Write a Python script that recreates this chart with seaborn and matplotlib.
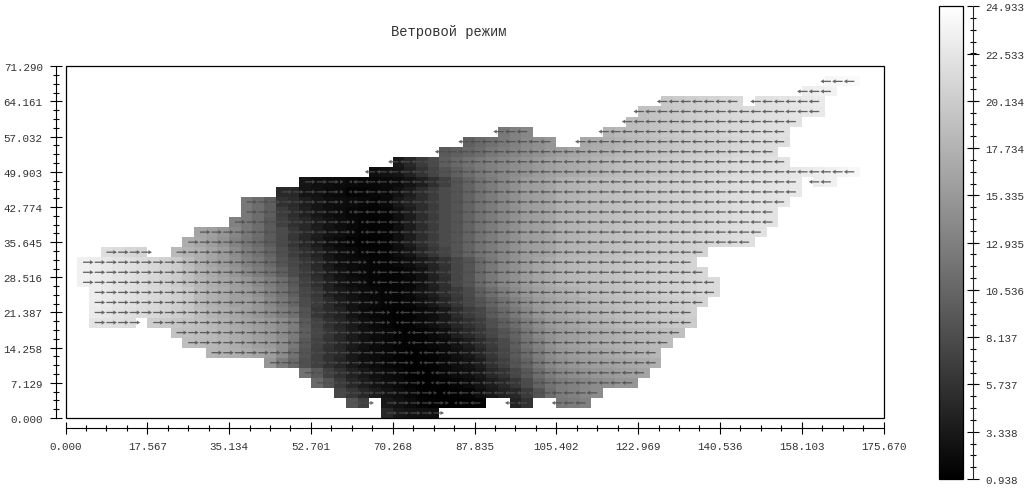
# plot.py
import numpy as np
import pandas as pd
import seaborn as sns
import matplotlib.pyplot as plt
from matplotlib.patches import Rectangle
from matplotlib.ticker import AutoMinorLocator

sns.set_style("white")
plt.rcParams["font.family"] = ["Liberation Mono", "DejaVu Sans Mono"]

title = "Ветровой режим"
x_labels = ["0.000", "17.567", "35.134", "52.701", "70.268", "87.835", "105.402", "122.969", "140.536", "158.103", "175.670"]
y_labels = ["0.000", "7.129", "14.258", "21.387", "28.516", "35.645", "42.774", "49.903", "57.032", "64.161", "71.290"]
cbar_labels = ["0.938", "3.338", "5.737", "8.137", "10.536", "12.935", "15.335", "17.734", "20.134", "22.533", "24.933"]
x_max, y_max = 175.67, 71.29
n_cols, n_rows = 70, 35

east_upper = [89, 103, 117, 126, 136, 145, 155, 159, 164, 174, 178, 181, 184, 187, 190, 192, 195, 198, 201, 204,
              206, 209, 212, 215, 218, 220, 222, 223, 225, 227, 229]
east_low = [75, 89, 108, 122, 136, 145, 155, 164, 169, 178, 181, 184, 187, 190, 192, 195, 198, 201, 204, 206, 209, 212, 215]
N = None

# rows from the bottom of the grid (row 0) to the top (row 33)
first_col = [27, 24, 23, 21, 20, 17, 12, 10, 9, 2, 2, 2, 2, 1, 1, 1, 3, 10, 11, 14, 15, 15, 18, 20, 26, 28, 32, 34, 37, 48, 49, 51, 63, 65]
speed_rows = [
    [47, 32, 28, 26, 23],
    [89, 70, N, 32, 26, 20, 15, 12, 10, 10, 12, 14, N, N, 42, 56, N, N, 122, 126, 131],
    [75, 60, 47, 37, 28, 22, 16, 12, 10, 10, 12, 14, 23, 32, 42, 47, 65, 89, 112, 126, 131, 136, 141],
    [108, 89, 65, 47, 37, 28, 22, 18, 14, 10, 10, 12, 15, 20, 28, 37, 47, 61, 80, 103, 117, 126, 131, 136, 141, 145, 150, 150],
    [117, 94, 70, 56, 42, 32, 24, 20, 16, 12, 10, 12, 16, 21, 24, 32, 47, 58, 75, 92, 112, 127, 136, 142, 147, 150, 153, 157, 160, 164],
    [150, 126, 108, 84, 70, 56, 45, 32, 24, 20, 16, 14, 11, 11, 13, 17, 23, 28, 37, 56, 70, 89, 103, 122, 136, 145, 150, 155, 158, 161, 164, 167, 170, 174],
    [180, 177, 174, 170, 164, 158, 141, 117, 89, 70, 56, 47, 32, 24, 20, 17, 14, 11, 12, 14, 18, 25, 32, 45, 61, 75, 94, 110, 127, 141, 150, 155, 159, 163, 167, 171, 175, 178, 181],
    [188, 185, 182, 178, 172, 166, 160, 154, 143, 122, 92, 72, 58, 46, 34, 26, 20, 17, 14, 12, 13, 16, 20, 28, 37, 51, 65, 79, 98, 117, 131, 145, 155, 159, 164, 168, 172, 175, 178, 181, 184, 187],
    [192, 190, 187, 183, 177, 170, 165, 158, 152, 140, 125, 98, 75, 60, 47, 35, 26, 20, 18, 14, 12, 14, 18, 24, 39, 48, 61, 75, 89, 103, 120, 136, 147, 155, 159, 164, 168, 172, 176, 180, 183, 186, 188, 190],
    [224, 222, 219, 216, N, 202, 199, 195, 192, 188, 182, 176, 169, 163, 157, 150, 140, 127, 94, 73, 56, 45, 34, 24, 18, 15, 12, 14, 18, 24, 32, 45, 56, 67, 84, 98, 112, 127, 141, 152, 159, 164, 169, 174, 178, 182, 186, 189, 192, 195, 198, 201],
    [230, 226, 222, 219, 216, 212, 208, 203, 196, 186, 178, 172, 165, 158, 150, 140, 128, 115, 88, 60, 50, 42, 28, 20, 16, 14, 12, 14, 18, 23, 32, 51, 65, 75, 94, 108, 122, 136, 150, 159, 164, 169, 174, 178, 182, 186, 189, 192, 195, 198, 201, 204],
    [232, 228, 224, 221, 217, 213, 209, 204, 196, 183, 175, 169, 160, 160, 150, 136, 122, 105, 80, 65, 50, 36, 28, 22, 18, 15, 14, 16, 24, 32, 45, 61, 75, 89, 103, 117, 131, 143, 155, 161, 167, 172, 177, 181, 185, 188, 191, 194, 197, 200, 203, 206, 209],
    [232, 228, 224, 221, 217, 213, 209, 204, 196, 183, 175, 169, 160, 155, 145, 131, 117, 98, 75, 61, 42, 32, 26, 20, 17, 15, 15, 18, 28, 38, 52, 65, 79, 98, 112, 127, 139, 150, 159, 165, 171, 176, 181, 185, 188, 191, 194, 197, 200, 203, 206, 209, 212, 214],
    [235, 231, 227, 223, 220, 216, 211, 206, 200, 190, 180, 172, 165, 158, 150, 138, 126, 112, 92, 70, 54, 40, 28, 22, 18, 15, 14, 14, 16, 26, 40, 54] + east_low[:23],
    [235, 231, 227, 223, 220, 216, 211, 206, 200, 188, 177, 168, 160, 150, 138, 127, 115, 98, 80, 65, 50, 36, 26, 20, 17, 15, 14, 14, 18, 26, 42, 56] + east_low[:22],
    [235, 231, 227, 223, 220, 216, 211, 206, 200, 186, 174, 164, 155, 145, 131, 122, 108, 89, 75, 61, 47, 32, 23, 20, 17, 15, 15, 18, 22, 32, 44, 58] + east_low[:21],
    [218, 216, 211, 209, N, N, 183, 178, 173, 164, 155, 141, 126, 117, 103, 84, 67, 54, 42, 30, 22, 18, 15, 14, 14, 22, 30, 46, 60, 74] + east_upper[:22],
    [172, 165, 157, 147, 133, 120, 110, 95, 78, 60, 46, 34, 24, 18, 14, 12, 12, 14, 24, 36, 52, 66, 80] + east_upper[:26],
    [164, 159, 150, 136, 122, 112, 94, 80, 61, 47, 37, 28, 23, 17, 14, 13, 14, 24, 36, 52, 66, 80] + east_upper[:27],
    [131, 122, 111, 94, 70, 56, 47, 35, 28, 22, 17, 14, 13, 14, 24, 36, 52, 66, 80] + east_upper[:28],
    [122, 112, 98, 66, 52, 40, 30, 24, 20, 16, 15, 14, 15, 25, 36, 52, 66, 80] + east_upper[:28],
    [122, 112, 98, 56, 50, 37, 30, 23, 22, 20, 17, 15, 18, 32, 42, 52, 66, 80] + east_upper[:29],
    [48, 47, 28, 26, 20, 18, 14, 14, 16, 18, 26, 36, 52, 66, 80] + east_upper[:30],
    [30, 24, 22, 20, 18, 16, 16, 18, 20, 28, 38, 54, 70] + east_upper[:30] + [N, 232, 235],
    [24, 26, 30, 42, 58, 74, 88, 100, 112, 122, 130, 136, 142, 148, 154, 160, 165, 169, 173, 177, 181, 185, 188, 191, 194, 197, 200, 203, 206, 209, 212, 215, 217, 219, 221, 223, 226, 229, 232, 235, 238, 241],
    [32, 47, 65, 79, 98, 108, 117, 124, 131, 136, 142, 148, 154, 160, 165, 169, 173, 177, 181, 185, 188, 191, 194, 197, 200, 203, 206, 209, 212, 215, 217, 219, 221, 223],
    [94, 100, 105, 112, 122, 128, 134, 140, 146, 152, 158, 164, 168, 172, 176, 180, 184, 187, 190, 193, 196, 199, 202, 205, 208, 211, 213, 215, 217],
    [100, 108, 116, 124, 131, 138, 144, 150, N, N, 166, 170, 174, 178, 182, 186, 189, 192, 195, 198, 201, 204, 207, 210, 213, 215, 217, 219],
    [122, 131, 136, N, N, N, N, N, N, 178, 182, 186, 189, 192, 195, 198, 201, 204, 207, 210, 213, 215, 217, 219, 221],
    [186, 189, 192, 195, 198, 201, 204, 207, 210, 213, 215, 217, 219, 221, 223],
    [190, 193, 196, 199, 202, 205, 208, 211, 214, 216, 218, 220, 222, 224, 226, 228],
    [197, 200, 203, 206, 209, 212, 214, N, 220, 222, 224, 226, 228, 230],
    [232, 235, 237],
    [240, 242, 244],
]

# column where the wind turns from eastward to westward in each row (-1 all west, 99 all east)
flip_col = [99, 33, 32, 31, 31, 30, 30, 29, 29, 28, 28, 27, 27, 26, 26, 26, 25, 25, 25, 25, 24, 24, 24, 24, -1, -1, -1, -1, -1, -1, -1, -1, -1, -1]
u_far = 2.25
u_before_flip = 0.75
u_at_flip = -0.65

grid = np.full((n_rows, n_cols), np.nan)
for r, (start, vals) in enumerate(zip(first_col, speed_rows)):
    for i, v in enumerate(vals):
        if v is not None:
            grid[r, start + i] = v / 10
df = pd.DataFrame(grid)

fig = plt.figure(figsize=(10.3, 4.89), dpi=100)
W, H = 1030, 489
ax = fig.add_axes([65.5 / W, 1 - 419 / H, 818 / W, 351.7 / H])
cax = fig.add_axes([939.3 / W, 1 - 480 / H, 23.4 / W, 472.7 / H])

sns.heatmap(df, ax=ax, cbar_ax=cax, cmap="gray", vmin=0.938, vmax=24.933,
            xticklabels=False, yticklabels=False, linewidths=0)
ax.set_xlim(0, n_cols)
ax.set_ylim(0, n_rows)
ax.set_xlabel("")
ax.set_ylabel("")

# wind arrows, one per wet cell
cell_w = x_max / n_cols
ax_x, ax_y, ax_u = [], [], []
for r in range(len(flip_col)):
    for k in range(n_cols):
        if np.isnan(grid[r, k]):
            continue
        f = flip_col[r]
        if k < f - 1:
            u = u_far
        elif k == f - 1:
            u = u_before_flip
        elif k == f:
            u = u_at_flip
        else:
            u = -u_far
        ax_x.append(k + 0.5)
        ax_y.append(r + 0.5)
        ax_u.append(u / cell_w)
ax.quiver(ax_x, ax_y, ax_u, np.zeros(len(ax_u)), angles="xy", scale_units="xy", scale=1,
          units="dots", width=1.3, headwidth=3.2, headlength=2.8, headaxislength=2.6,
          minlength=0, color="#4c4c4c", alpha=0.85, zorder=3)

# axes, detached from the frame
for s in ["top", "right"]:
    ax.spines[s].set_visible(False)
for s in ["left", "bottom"]:
    ax.spines[s].set_visible(True)
    ax.spines[s].set_linewidth(0.8)
    ax.spines[s].set_color("black")
ax.spines["left"].set_position(("outward", 7.0))
ax.spines["bottom"].set_position(("outward", 7.2))
ax.add_patch(Rectangle((0, 0), 1, 1, transform=ax.transAxes, fill=False, ec="black", lw=0.9, clip_on=False, zorder=5))

ax.set_xticks(np.array([float(s) for s in x_labels]) / cell_w)
ax.set_xticklabels(x_labels)
ax.set_yticks(np.array([float(s) for s in y_labels]) / (y_max / n_rows))
ax.set_yticklabels(y_labels)
ax.xaxis.set_minor_locator(AutoMinorLocator(4))
ax.yaxis.set_minor_locator(AutoMinorLocator(4))
ax.tick_params(which="major", direction="inout", length=9.2, width=0.8, color="black",
               labelsize=7.8, labelcolor="#333333", pad=4.8, left=True, bottom=True)
ax.tick_params(which="minor", direction="inout", length=4.6, width=0.8, color="black", left=True, bottom=True)

# colour bar
cbar = ax.collections[0].colorbar
cbar.outline.set_linewidth(0.9)
cbar.outline.set_edgecolor("black")
cbar.set_ticks([float(s) for s in cbar_labels])
cbar.set_ticklabels(cbar_labels)
cax.spines["right"].set_visible(True)
cax.spines["right"].set_linewidth(0.8)
cax.spines["right"].set_position(("outward", 7.2))
cax.yaxis.set_minor_locator(AutoMinorLocator(4))
cax.tick_params(which="major", direction="inout", length=8.8, width=0.8, color="black",
                labelsize=7.8, labelcolor="#333333", pad=4.8, right=True)
cax.tick_params(which="minor", direction="inout", length=4.6, width=0.8, color="black", right=True)

fig.text(449 / W, 1 - 32 / H, title, ha="center", va="center", fontsize=9.9, color="#333333",
         family=["Liberation Mono", "DejaVu Sans Mono"])

fig.savefig("out.png", dpi=100)
plt.close(fig)
